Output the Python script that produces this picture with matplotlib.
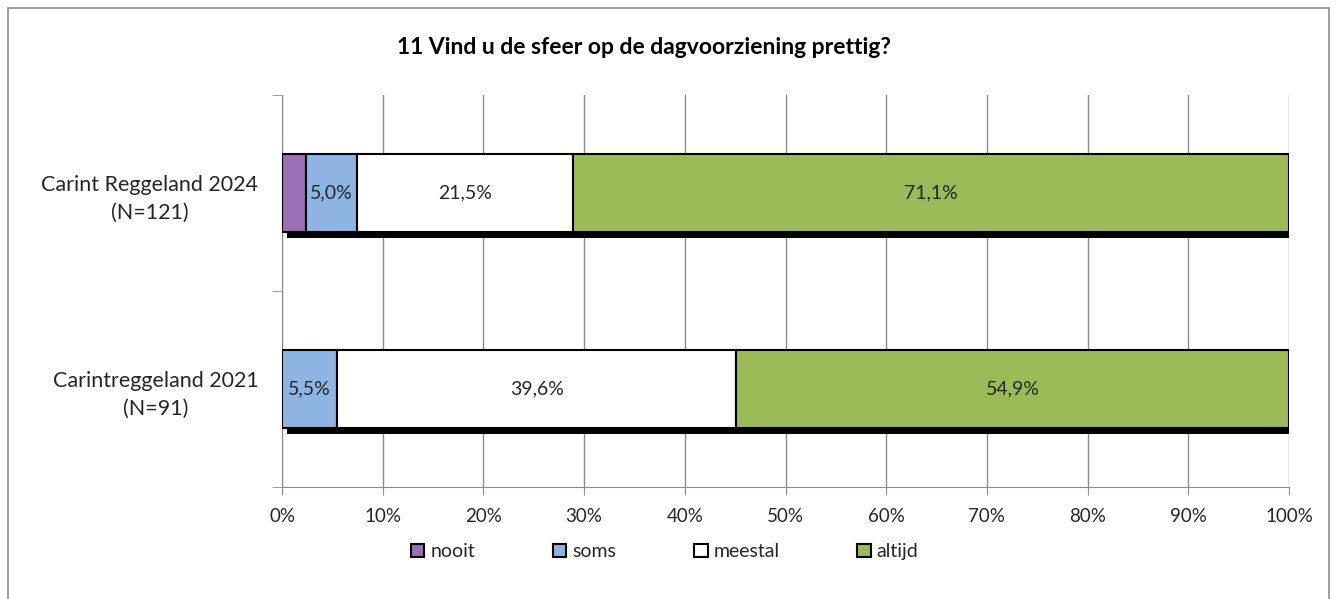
import matplotlib
matplotlib.use('Agg')
import matplotlib.pyplot as plt
import numpy as np

plt.rcParams['font.family'] = ['Lato', 'DejaVu Sans']

categories = ['Carint Reggeland 2024\n(N=121)', 'Carintreggeland 2021\n(N=91)']
series = ['nooit', 'soms', 'meestal', 'altijd']
nooit = [2.4, 0.0]
soms = [5.0, 5.5]
meestal = [21.5, 39.6]
altijd = [71.1, 54.9]
values = [nooit, soms, meestal, altijd]
colors = ['#9a6fb5', '#8eb4e3', '#ffffff', '#9bbb59']
ticks = [0, 10, 20, 30, 40, 50, 60, 70, 80, 90, 100]

fig = plt.figure(figsize=(13.36, 5.99), dpi=100)
ax = fig.add_axes([0.2111, 0.187, 0.7537, 0.6544])

# frame round the whole chart
fig.patches.append(plt.Rectangle((0.006, -0.02), 0.9888, 1.0066, transform=fig.transFigure,
                                 fill=False, edgecolor='#8c8c8c', linewidth=1.2))

y = np.arange(len(categories))

# shadow under each bar
for i in y:
    ax.barh(i + 0.015, 99.5, left=0.5, height=0.43, color='black', zorder=2)

left = np.zeros(len(categories))
for name, vals, col in zip(series, values, colors):
    vals = np.array(vals)
    ax.barh(y, vals, left=left, height=0.4, color=col, edgecolor='black',
            linewidth=1.5, label=name, zorder=3)
    for i, v in enumerate(vals):
        if v >= 5:
            ax.text(left[i] + v / 2, i, ('%.1f%%' % v).replace('.', ','),
                    ha='center', va='center', fontsize=14, color='#262626', zorder=4)
    left += vals

ax.set_xlim(0, 100)
ax.set_ylim(1.5, -0.5)
ax.set_xticks(ticks)
ax.set_xticklabels(['%d%%' % t for t in ticks], fontsize=13.5, color='#262626')
ax.set_yticks(y)
ax.set_yticklabels(categories, fontsize=15.5, color='#262626', multialignment='center',
                   linespacing=1.5)
ax.set_yticks([-0.5, 0.5, 1.5], minor=True)
ax.tick_params(axis='y', which='major', length=0, pad=17)
ax.tick_params(axis='y', which='minor', length=7, color='#8c8c8c')
ax.tick_params(axis='x', length=6, color='#8c8c8c', pad=9)
ax.xaxis.grid(True, color='#8c8c8c', linewidth=1.0, zorder=0)
ax.set_axisbelow(True)
for s in ['top', 'right']:
    ax.spines[s].set_visible(False)
for s in ['left', 'bottom']:
    ax.spines[s].set_color('#8c8c8c')

fig.text(0.482, 0.921, '11 Vind u de sfeer op de dagvoorziening prettig?', ha='center', va='center',
         fontsize=16.5, fontweight='bold', color='black')

leg = ax.legend(loc='center', bbox_to_anchor=(0.38, -0.165), ncol=4, frameon=False,
                fontsize=14, handlelength=0.7, handleheight=0.7, handletextpad=0.3,
                columnspacing=4.0)
for t in leg.get_texts():
    t.set_color('#262626')

fig.savefig('out.png', dpi=100)
